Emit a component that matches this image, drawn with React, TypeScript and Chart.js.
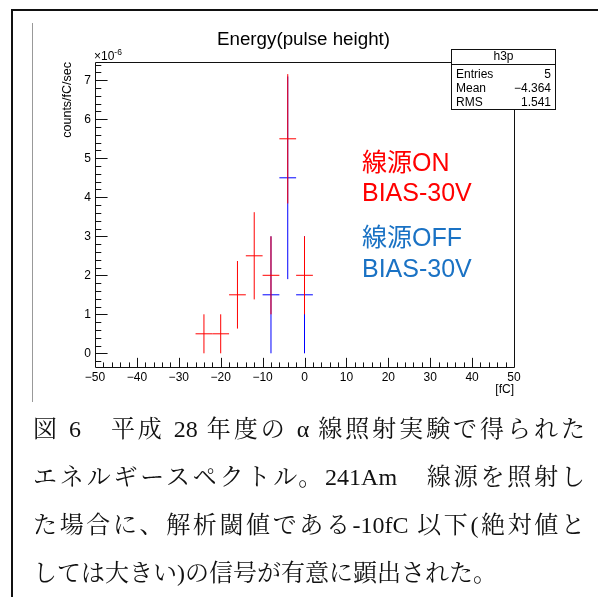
import React, { useEffect, useRef } from "react";
import { Chart, registerables } from "chart.js";

Chart.register(...registerables);

// ---- data (values in units of 1e-6 counts/fC/sec) ----
const binHalfWidth = 2; // fC
const onCenters = [-24, -20, -16, -12, -8, -4, 0];
const onValues = [0.5, 0.5, 1.5, 2.5, 2.0, 5.5, 2.0];
const onErrors = [0.5, 0.5, 0.866, 1.118, 1.0, 1.658, 1.0];
const offCenters = [-8, -4, 0];
const offValues = [1.5, 4.5, 1.5];
const offErrors = [1.5, 2.598, 1.5];

const xTicks = [-50, -40, -30, -20, -10, 0, 10, 20, 30, 40, 50];
const yTicks = [0, 1, 2, 3, 4, 5, 6, 7];
const xRange = [-50, 50];
const yRange = [-0.351, 7.469];

const titleText = "Energy(pulse height)";
const yTitle = "counts/fC/sec";
const xTitle = "[fC]";
const statsName = "h3p";
const statsLabels = ["Entries", "Mean", "RMS"];
const statsValues = ["5", "\u22124.364", "1.541"];

const captionLines = [
  "図 6\u3000平成 28 年度の α 線照射実験で得られた",
  "エネルギースペクトル。241Am\u3000線源を照射し",
  "た場合に、解析閾値である-10fC 以下(絶対値と",
  "しては大きい)の信号が有意に顕出された。",
];

const SANS = '"Liberation Sans", Arial, Helvetica, sans-serif';
const JP = '"Liberation Sans", "Noto Sans CJK JP", sans-serif';

function errorSegments(centers: number[], values: number[], errors: number[]) {
  const pts: { x: number; y: number | null }[] = [];
  centers.forEach((c, i) => {
    const v = values[i];
    const e = errors[i];
    pts.push({ x: c - binHalfWidth, y: v }, { x: c + binHalfWidth, y: v }, { x: c, y: null });
    pts.push({ x: c, y: v - e }, { x: c, y: v + e }, { x: c, y: null });
  });
  return pts;
}

const rootPlugin = {
  id: "rootDecor",
  afterDraw(chart: any) {
    const ctx: CanvasRenderingContext2D = chart.ctx;
    const a = chart.chartArea;
    const xs = chart.scales.x;
    const ys = chart.scales.y;
    const L = a.left, R = a.right, T = a.top, B = a.bottom;
    ctx.save();
    // frame
    ctx.strokeStyle = "#111";
    ctx.lineWidth = 1;
    ctx.beginPath();
    ctx.rect(L + 0.5, T + 0.5, R - L, B - T);
    ctx.stroke();
    // y ticks
    const yMajor = (R - L) * 0.03;
    ctx.beginPath();
    for (let v = -0.2; v <= ys.max + 1e-9; v += 0.2) {
      const vv = Math.round(v * 10) / 10;
      if (vv < ys.min) continue;
      const p = ys.getPixelForValue(vv);
      const isMajor = Math.abs(vv - Math.round(vv)) < 1e-6;
      const len = isMajor ? yMajor : yMajor / 2;
      ctx.moveTo(L, Math.round(p) + 0.5);
      ctx.lineTo(L + len, Math.round(p) + 0.5);
    }
    // x ticks
    const xMajor = (B - T) * 0.03;
    for (let v = xs.min; v <= xs.max + 1e-9; v += 2) {
      const p = xs.getPixelForValue(v);
      const isMajor = Math.abs(v % 10) < 1e-6;
      const len = isMajor ? xMajor : xMajor / 2;
      ctx.moveTo(Math.round(p) + 0.5, B);
      ctx.lineTo(Math.round(p) + 0.5, B - len);
    }
    ctx.stroke();

    // exponent label
    ctx.fillStyle = "#000";
    ctx.textBaseline = "alphabetic";
    ctx.textAlign = "left";
    ctx.font = `12px ${SANS}`;
    ctx.fillText("\u00d710", L - 1, T - 2);
    const w10 = ctx.measureText("\u00d710").width;
    ctx.font = `8.5px ${SANS}`;
    ctx.fillText("-6", L - 1 + w10, T - 7.5);

    // y title (rotated)
    ctx.save();
    ctx.translate(71, T);
    ctx.rotate(-Math.PI / 2);
    ctx.textAlign = "right";
    ctx.font = `12.5px ${SANS}`;
    ctx.fillText(yTitle, 0, 0);
    ctx.restore();

    // x title
    ctx.textAlign = "right";
    ctx.font = `12px ${SANS}`;
    ctx.fillText(xTitle, R, 393);

    // title
    ctx.textAlign = "center";
    ctx.font = `18.75px ${SANS}`;
    ctx.fillText(titleText, 303.5, 44.5);

    // stats box
    const bx = 451.5, by = 49.5, bw = 104, bh = 60;
    ctx.fillStyle = "#fff";
    ctx.fillRect(bx, by, bw, bh);
    ctx.strokeStyle = "#111";
    ctx.strokeRect(bx, by, bw, bh);
    ctx.beginPath();
    ctx.moveTo(bx, 64.5);
    ctx.lineTo(bx + bw, 64.5);
    ctx.stroke();
    ctx.fillStyle = "#000";
    ctx.font = `12px ${SANS}`;
    ctx.textAlign = "center";
    ctx.fillText(statsName, bx + bw / 2, 60);
    statsLabels.forEach((lab, i) => {
      const yb = 77.5 + i * 14;
      ctx.textAlign = "left";
      ctx.fillText(lab, 456, yb);
      ctx.textAlign = "right";
      ctx.fillText(statsValues[i], 551, yb);
    });

    // annotations
    ctx.textAlign = "left";
    ctx.font = `25px ${JP}`;
    ctx.fillStyle = "#ff0000";
    ctx.fillText("線源ON", 362, 171);
    ctx.fillText("BIAS-30V", 362, 201);
    ctx.fillStyle = "#1a72c4";
    ctx.fillText("線源OFF", 362, 246);
    ctx.fillText("BIAS-30V", 362, 277);
    ctx.restore();
  },
};

export default function App() {
  const ref = useRef<HTMLCanvasElement | null>(null);
  useEffect(() => {
    if (!ref.current) return;
    const chart = new Chart(ref.current, {
      type: "scatter",
      data: {
        datasets: [
          {
            label: "ON",
            data: errorSegments(onCenters, onValues, onErrors) as any,
            showLine: true,
            spanGaps: false,
            borderColor: "#ff0000",
            borderWidth: 1,
            pointRadius: 0,
            pointHoverRadius: 0,
            tension: 0,
          },
          {
            label: "OFF",
            data: errorSegments(offCenters, offValues, offErrors) as any,
            showLine: true,
            spanGaps: false,
            borderColor: "#0000ff",
            borderWidth: 1,
            pointRadius: 0,
            pointHoverRadius: 0,
            tension: 0,
          },
        ],
      },
      options: {
        animation: false,
        responsive: false,
        devicePixelRatio: 1,
        layout: { padding: { left: 55, right: 84, top: 62, bottom: 200 } },
        plugins: { legend: { display: false }, tooltip: { enabled: false }, title: { display: false } },
        events: [],
        scales: {
          x: {
            type: "linear",
            min: xRange[0],
            max: xRange[1],
            grid: { display: false, drawTicks: false },
            border: { display: false },
            afterBuildTicks: (s: any) => {
              s.ticks = xTicks.map((v) => ({ value: v }));
            },
            afterFit: (s: any) => {
              s.height = 30;
            },
            ticks: {
              color: "#000",
              padding: 3,
              maxRotation: 0,
              autoSkip: false,
              font: { family: SANS, size: 12 },
              callback: (v: any) => (Number(v) < 0 ? "\u2212" + Math.abs(Number(v)) : String(v)),
            },
          },
          y: {
            type: "linear",
            min: yRange[0],
            max: yRange[1],
            grid: { display: false, drawTicks: false },
            border: { display: false },
            afterBuildTicks: (s: any) => {
              s.ticks = yTicks.map((v) => ({ value: v }));
            },
            afterFit: (s: any) => {
              s.width = 40;
            },
            ticks: {
              color: "#000",
              padding: 4,
              autoSkip: false,
              font: { family: SANS, size: 12 },
            },
          },
        },
      },
      plugins: [rootPlugin],
    });
    return () => chart.destroy();
  }, []);

  return (
    <div style={{ position: "absolute", left: 0, top: 0, width: 598, height: 597, background: "#fff", overflow: "hidden" }}>
      <div
        style={{
          position: "absolute",
          left: 11,
          top: 9,
          width: 600,
          height: 600,
          borderTop: "2px solid #111",
          borderLeft: "2px solid #111",
        }}
      />
      <div style={{ position: "absolute", left: 32, top: 23, width: 1, height: 379, background: "#999" }} />
      <canvas ref={ref} width={598} height={597} style={{ position: "absolute", left: 0, top: 0 }} />
      {captionLines.map((line, i) => (
        <div
          key={i}
          style={{
            position: "absolute",
            left: 33,
            top: 405 + i * 48,
            width: 552,
            height: 48,
            lineHeight: "48px",
            fontSize: 24,
            fontFamily: '"Liberation Serif", "Noto Serif CJK JP", "Noto Sans CJK JP", serif',
            color: "#111",
            whiteSpace: "nowrap",
            textAlign: i < 3 ? "justify" : "left",
            textAlignLast: i < 3 ? "justify" : "left",
          } as any}
        >
          {line}
        </div>
      ))}
    </div>
  );
}
